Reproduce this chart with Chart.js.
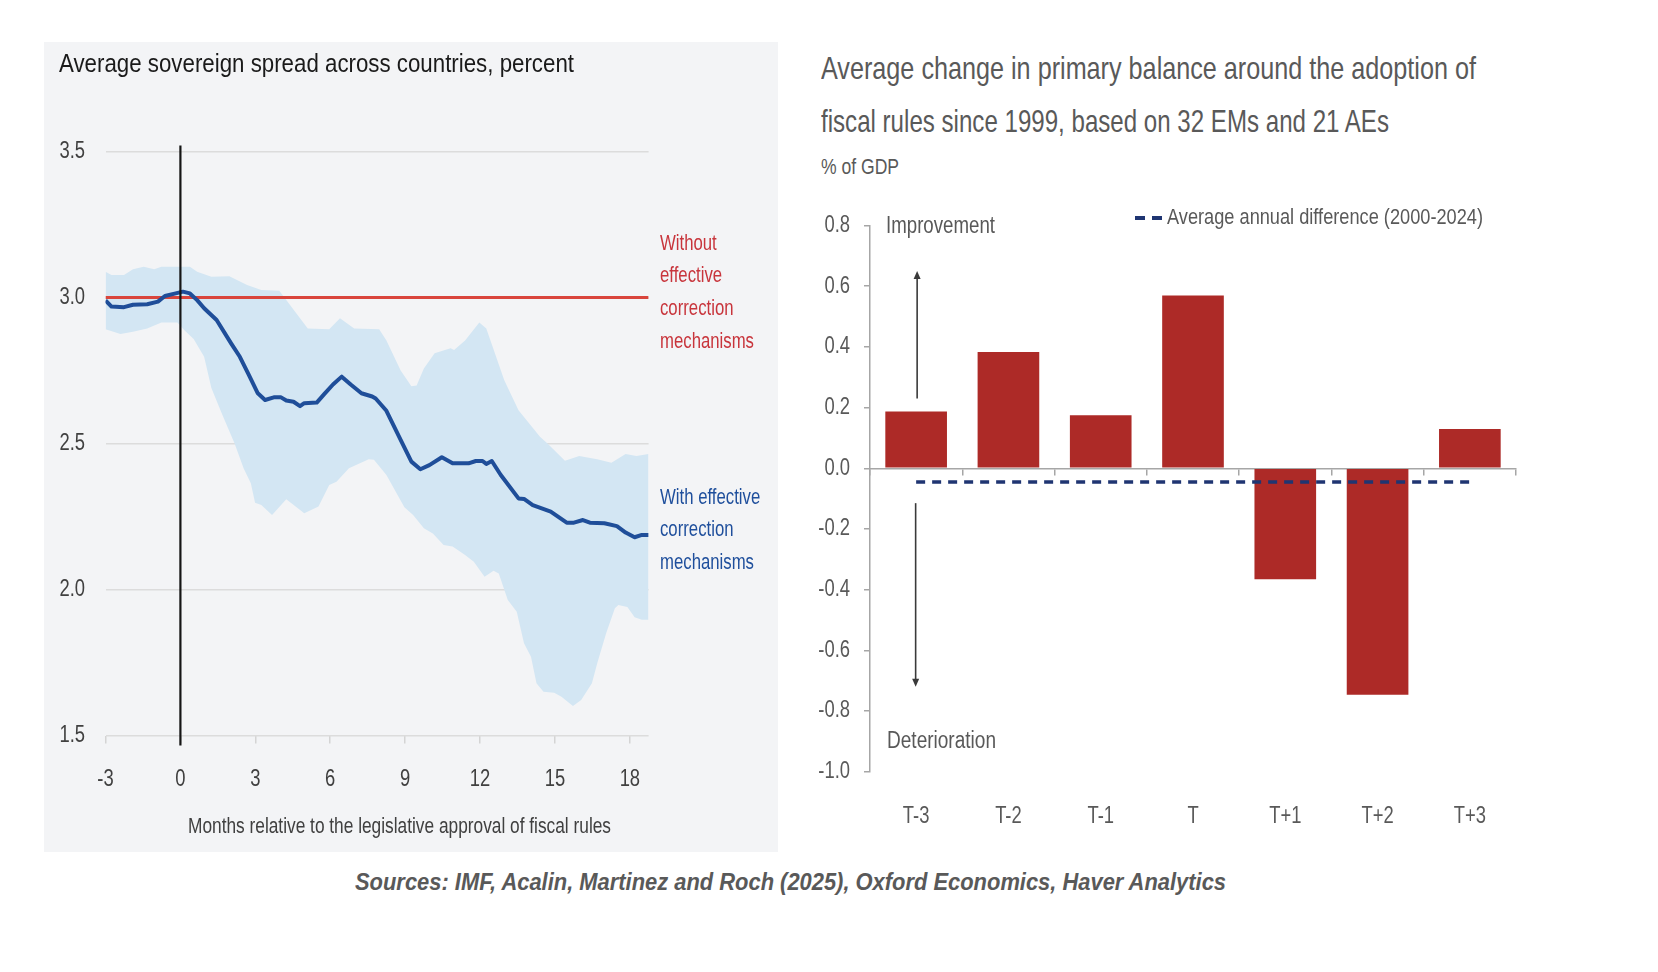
<!DOCTYPE html>
<html><head><meta charset="utf-8">
<script src="https://cdn.jsdelivr.net/npm/chart.js@4.4.1/dist/chart.umd.min.js"></script>
<style>
html,body{margin:0;padding:0;background:#fff;width:1658px;height:972px;overflow:hidden;position:relative;}
#leftPanel{position:absolute;left:44px;top:42px;width:734px;height:810px;background:#f3f4f6;}
#leftCanvas{position:absolute;left:0;top:0;}
#rightWrap{position:absolute;left:790px;top:190px;width:770px;height:660px;}
.t{position:absolute;white-space:nowrap;font-family:'Liberation Sans',Arial,sans-serif;line-height:1;transform-origin:0 50%;}
.dash{position:absolute;background:#1f3572;}
</style></head><body>
<div id="leftPanel"><canvas id="leftCanvas" width="734" height="810"></canvas></div>
<div id="rightWrap"><canvas id="rightCanvas" width="770" height="660"></canvas></div>
<div class="dash" style="left:1135px;top:216px;width:10px;height:3.5px"></div>
<div class="dash" style="left:1152px;top:216px;width:10px;height:3.5px"></div>
<script>
// ---------------- DATA: left chart (sovereign spread, percent) ----------------
const monthTicks = [-3, 0, 3, 6, 9, 12, 15, 18];
const spreadTicks = [1.5, 2.0, 2.5, 3.0, 3.5];
const approvalMonth = 0;

const meanMonths = [-3, -2.76, -2.26, -1.9, -1.33, -0.9, -0.62, -0.19, 0.1, 0.38, 0.67, 0.95, 1.45, 2.03, 2.38, 2.74, 3.1, 3.39, 3.74, 4.03, 4.24, 4.53, 4.79, 4.96, 5.46, 5.75, 6.11, 6.46, 6.82, 7.25, 7.68, 7.82, 8.25, 8.82, 9.25, 9.61, 9.97, 10.47, 10.9, 11.54, 11.83, 12.1, 12.25, 12.47, 12.83, 13.54, 13.76, 14.11, 14.83, 15.47, 15.76, 16.12, 16.4, 16.98, 17.48, 17.83, 18.19, 18.48, 18.75];
const meanSpread = [2.99, 2.969, 2.967, 2.975, 2.977, 2.986, 3.005, 3.014, 3.02, 3.014, 2.991, 2.963, 2.923, 2.843, 2.797, 2.735, 2.672, 2.649, 2.658, 2.658, 2.647, 2.643, 2.628, 2.638, 2.64, 2.668, 2.702, 2.729, 2.702, 2.672, 2.661, 2.654, 2.612, 2.512, 2.438, 2.412, 2.426, 2.453, 2.432, 2.432, 2.44, 2.44, 2.43, 2.44, 2.392, 2.312, 2.31, 2.289, 2.267, 2.229, 2.229, 2.238, 2.229, 2.227, 2.217, 2.195, 2.179, 2.187, 2.187];

const upperMonths = [-3, -2.76, -2.26, -1.9, -1.47, -1.05, -0.76, 0.38, 0.67, 1.24, 1.96, 2.67, 3.24, 3.96, 4.39, 5.1, 5.96, 6.39, 6.96, 7.96, 8.25, 8.82, 9.25, 9.46, 9.75, 10.18, 10.82, 10.96, 11.4, 11.97, 12.25, 12.97, 13.54, 14.4, 14.69, 15.4, 15.97, 16.69, 17.26, 17.83, 18.26, 18.75];
const upperBand = [3.088, 3.077, 3.077, 3.097, 3.105, 3.097, 3.105, 3.105, 3.088, 3.071, 3.073, 3.043, 3.026, 3.023, 2.974, 2.894, 2.891, 2.929, 2.894, 2.891, 2.853, 2.75, 2.696, 2.699, 2.757, 2.809, 2.826, 2.82, 2.853, 2.914, 2.894, 2.717, 2.614, 2.523, 2.501, 2.441, 2.457, 2.446, 2.434, 2.464, 2.457, 2.464];

const lowerMonths = [-3, -2.4, -1.9, -1.33, -0.76, -0.12, 0.17, 0.53, 0.95, 1.24, 1.67, 2.17, 2.53, 2.82, 2.99, 3.24, 3.67, 4.24, 4.96, 5.53, 5.96, 6.25, 6.75, 7.54, 7.75, 8.25, 8.97, 9.32, 9.75, 10.11, 10.54, 10.9, 11.4, 11.75, 12.18, 12.54, 12.75, 13.11, 13.47, 13.76, 14.04, 14.26, 14.54, 14.97, 15.26, 15.72, 16.05, 16.48, 16.69, 17.05, 17.4, 17.54, 17.9, 18.19, 18.48, 18.75];
const lowerBand = [2.891, 2.875, 2.883, 2.894, 2.914, 2.914, 2.887, 2.858, 2.797, 2.69, 2.6, 2.5, 2.415, 2.364, 2.297, 2.289, 2.255, 2.309, 2.261, 2.284, 2.358, 2.369, 2.415, 2.446, 2.444, 2.392, 2.282, 2.255, 2.21, 2.192, 2.152, 2.147, 2.118, 2.095, 2.044, 2.064, 2.055, 1.964, 1.924, 1.816, 1.77, 1.679, 1.65, 1.646, 1.633, 1.601, 1.622, 1.679, 1.747, 1.85, 1.936, 1.947, 1.94, 1.905, 1.896, 1.896];

const withoutMonths = [-3, 18.75];
const withoutSpread = [3.0, 3.0];

// ---------------- DATA: right chart (primary balance, % of GDP) ----------------
const periods = ['T-3', 'T-2', 'T-1', 'T', 'T+1', 'T+2', 'T+3'];
const primaryBalanceChange = [0.187, 0.383, 0.175, 0.569, -0.366, -0.746, 0.129];
const avgAnnualDiff = [-0.045, -0.045, -0.045, -0.045, -0.045, -0.045, -0.045];
const balanceTicks = [-1.0, -0.8, -0.6, -0.4, -0.2, 0.0, 0.2, 0.4, 0.6, 0.8];

// ---------------- rendering ----------------
const F = "'Liberation Sans', Arial, sans-serif";
const pts = (xs, ys) => xs.map((x, i) => ({x: x, y: ys[i]}));

// narrow the canvas text (Arial-Narrow-like look) around each label's anchor
const condensePlugin = {
  id: 'condense',
  beforeInit(chart) {
    const ctx = chart.ctx;
    const orig = ctx.fillText.bind(ctx);
    ctx.fillText = function (t, x, y, mw) {
      ctx.save(); ctx.translate(x, y); ctx.scale(0.8, 1);
      if (mw === undefined) orig(t, 0, 0); else orig(t, 0, 0, mw / 0.8);
      ctx.restore();
    };
  }
};

const approvalLinePlugin = {
  id: 'approvalLine',
  afterDatasetsDraw(chart) {
    const {ctx, chartArea, scales} = chart;
    const px = scales.x.getPixelForValue(approvalMonth);
    ctx.save();
    ctx.strokeStyle = '#151515'; ctx.lineWidth = 2.2;
    ctx.beginPath(); ctx.moveTo(px, chartArea.top - 6); ctx.lineTo(px, chartArea.bottom + 10); ctx.stroke();
    ctx.restore();
  }
};

new Chart(document.getElementById('leftCanvas'), {
  type: 'line',
  data: {datasets: [
    {label: 'lower', data: pts(lowerMonths, lowerBand), borderWidth: 0, borderColor: 'rgba(0,0,0,0)', pointRadius: 0, fill: false, order: 4},
    {label: 'upper', data: pts(upperMonths, upperBand), borderWidth: 0, borderColor: 'rgba(0,0,0,0)', pointRadius: 0, fill: {target: 0}, backgroundColor: '#d3e6f3', order: 3},
    {label: 'Without effective correction mechanisms', data: pts(withoutMonths, withoutSpread), borderColor: '#d9453c', borderWidth: 3, pointRadius: 0, fill: false, order: 2},
    {label: 'With effective correction mechanisms', data: pts(meanMonths, meanSpread), borderColor: '#1f4e99', borderWidth: 4, pointRadius: 0, fill: false, borderJoinStyle: 'round', order: 1}
  ]},
  options: {
    responsive: false, animation: false,
    plugins: {legend: {display: false}, tooltip: {enabled: false}},
    layout: {padding: {top: 109.5, right: 129.4, bottom: 0, left: 0}},
    scales: {
      x: {type: 'linear', min: -3, max: 18.75,
        afterBuildTicks(s) { s.ticks = monthTicks.map(v => ({value: v})); },
        grid: {drawOnChartArea: false, drawTicks: true, tickLength: 8, color: '#d4d4d4', lineWidth: 1.5},
        border: {display: false},
        ticks: {color: '#404040', font: {family: F, size: 23}, padding: 22, callback: v => String(v)},
        afterFit(s) { s.height = 116.5; }},
      y: {min: 1.5, max: 3.5,
        afterBuildTicks(s) { s.ticks = spreadTicks.map(v => ({value: v})); },
        grid: {color: '#dcdcdc', lineWidth: 1.5, drawTicks: false},
        border: {display: false},
        ticks: {color: '#404040', font: {family: F, size: 23}, padding: 20.5, callback: v => Number(v).toFixed(1)},
        afterFit(s) { s.width = 61.5; }}
    }
  },
  plugins: [condensePlugin, approvalLinePlugin]
});

function drawArrow(ctx, x, y0, y1) {
  const dir = Math.sign(y1 - y0);
  ctx.save();
  ctx.strokeStyle = '#3a3a3a'; ctx.fillStyle = '#3a3a3a'; ctx.lineWidth = 1.6;
  ctx.beginPath(); ctx.moveTo(x, y0); ctx.lineTo(x, y1 - dir * 5); ctx.stroke();
  ctx.beginPath(); ctx.moveTo(x, y1); ctx.lineTo(x - 3.5, y1 - dir * 8); ctx.lineTo(x + 3.5, y1 - dir * 8); ctx.closePath(); ctx.fill();
  ctx.restore();
}
const arrowPlugin = {
  id: 'arrows',
  afterDatasetsDraw(chart) {
    const {ctx, scales} = chart;
    const px = scales.x.getPixelForValue(0) + 1;
    drawArrow(ctx, px, scales.y.getPixelForValue(0.23), scales.y.getPixelForValue(0.65));
    drawArrow(ctx, px - 1.5, scales.y.getPixelForValue(-0.115), scales.y.getPixelForValue(-0.72));
  }
};

new Chart(document.getElementById('rightCanvas'), {
  type: 'bar',
  data: {labels: periods, datasets: [
    {type: 'line', label: 'Average annual difference (2000-2024)', data: avgAnnualDiff, xAxisID: 'x', borderColor: '#1f3572', borderWidth: 3.5, borderDash: [9, 7], pointRadius: 0, fill: false, order: 0},
    {type: 'bar', label: 'Average change in primary balance', data: primaryBalanceChange, xAxisID: 'x', backgroundColor: '#ad2a27', barPercentage: 0.668, categoryPercentage: 1, order: 1}
  ]},
  options: {
    responsive: false, animation: false,
    plugins: {legend: {display: false}, tooltip: {enabled: false}},
    layout: {padding: {top: 35.5, right: 44, bottom: 0, left: 0}},
    scales: {
      x: {type: 'category', offset: true, grid: {display: false}, border: {display: false},
        ticks: {color: '#595959', font: {family: F, size: 23}, padding: 23},
        afterFit(s) { s.height = 78.3; }},
      x2: {axis: 'x', type: 'category', labels: periods, position: {y: 0}, offset: true, z: 1,
        grid: {offset: true, drawOnChartArea: false, drawTicks: true, tickLength: 6, color: '#a6a6a6', lineWidth: 1.5},
        border: {display: true, color: '#a6a6a6', width: 1.5},
        ticks: {display: false}},
      y: {min: -1, max: 0.8,
        afterBuildTicks(s) { s.ticks = balanceTicks.map(v => ({value: v})); },
        grid: {drawOnChartArea: false, drawTicks: true, tickLength: 6, color: '#a6a6a6', lineWidth: 1.5},
        border: {display: true, color: '#a6a6a6', width: 1.5},
        ticks: {color: '#595959', font: {family: F, size: 23}, padding: 14, callback: v => (Math.abs(v) < 1e-9 ? 0 : Number(v)).toFixed(1)},
        afterFit(s) { s.width = 80; }}
    }
  },
  plugins: [condensePlugin, arrowPlugin]
});

// ---------------- texts (real text, narrowed with scaleX to the reference widths) ----------------
function addText(txt, x, cy, size, color, targetW, extra) {
  const d = document.createElement('div');
  d.className = 't'; d.textContent = txt;
  d.style.left = x + 'px'; d.style.fontSize = size + 'px'; d.style.color = color;
  if (extra) Object.assign(d.style, extra);
  document.body.appendChild(d);
  const r = d.getBoundingClientRect();
  if (targetW) d.style.transform = 'scaleX(' + (targetW / r.width) + ')';
  d.style.top = (cy - r.height / 2) + 'px';
  return targetW ? targetW / r.width : 1;
}
function addTextK(txt, x, cy, size, color, k, extra) {
  const d = document.createElement('div');
  d.className = 't'; d.textContent = txt;
  d.style.left = x + 'px'; d.style.fontSize = size + 'px'; d.style.color = color;
  d.style.transform = 'scaleX(' + k + ')';
  if (extra) Object.assign(d.style, extra);
  document.body.appendChild(d);
  const r = d.getBoundingClientRect();
  d.style.top = (cy - r.height / 2) + 'px';
}

addText('Average sovereign spread across countries, percent', 59, 63, 26.5, '#1a1a1a', 515);
const kRed = addText('mechanisms', 660, 243 + 3 * 32.7, 22.5, '#c8353c', 94);
['Without', 'effective', 'correction'].forEach((s, i) => addTextK(s, 660, 243 + i * 32.7, 22.5, '#c8353c', kRed));
const kBlue = addText('mechanisms', 660, 497 + 2 * 32.7, 22.5, '#1f4f9c', 94);
['With effective', 'correction'].forEach((s, i) => addTextK(s, 660, 497 + i * 32.7, 22.5, '#1f4f9c', kBlue));
addText('Months relative to the legislative approval of fiscal rules', 188, 827, 21.5, '#404040', 423);

addText('Average change in primary balance around the adoption of', 821, 69, 31.5, '#595959', 655);
addText('fiscal rules since 1999, based on 32 EMs and 21 AEs', 821, 122, 31.5, '#595959', 568);
addText('% of GDP', 821, 167, 22, '#595959', 78);
addText('Average annual difference (2000-2024)', 1167, 217, 22.5, '#595959', 316);
addText('Improvement', 886, 226, 23.5, '#595959', 109);
addText('Deterioration', 887, 741, 23.5, '#595959', 109);
addText('Sources: IMF, Acalin, Martinez and Roch (2025), Oxford Economics, Haver Analytics', 355, 882, 23, '#595959', 871, {fontStyle: 'italic', fontWeight: '600'});
</script>
</body></html>
